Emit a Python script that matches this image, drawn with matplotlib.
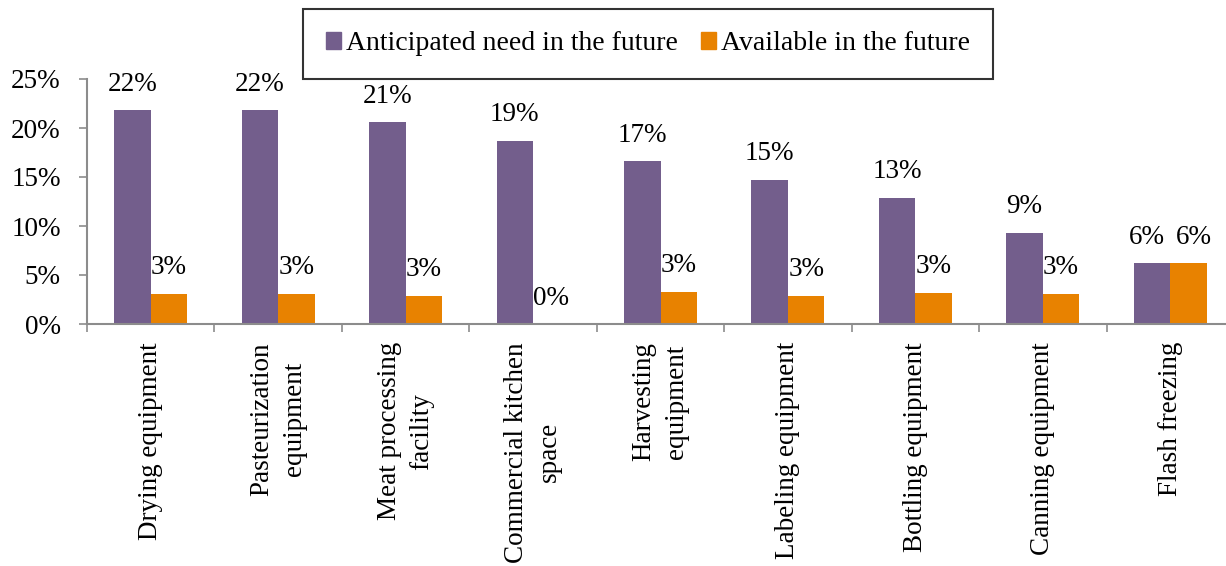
import numpy as np
import matplotlib
matplotlib.use("Agg")
import matplotlib.pyplot as plt
from matplotlib.patches import Patch

plt.rcParams['font.family'] = ['Liberation Serif', 'DejaVu Serif']

categories = ["Drying equipment", "Pasteurization\nequipment", "Meat processing\nfacility",
              "Commercial kitchen\nspace", "Harvesting\nequipment", "Labeling equipment",
              "Bottling equipment", "Canning equipment", "Flash freezing"]
need = [21.8, 21.8, 20.6, 18.7, 16.6, 14.7, 12.9, 9.3, 6.2]
available = [3.1, 3.1, 2.9, 0.0, 3.3, 2.9, 3.2, 3.1, 6.2]
series_names = ["Anticipated need in the future", "Available in the future"]
yticks = [0, 5, 10, 15, 20, 25]

purple = '#735E8C'
orange = '#E88200'
grey = '#8C8C8C'
fs = 19.5

W, H = 1226, 566
fig = plt.figure(figsize=(W / 100, H / 100), dpi=100)
# plot area, right edge runs a little past the picture
ax = fig.add_axes([87 / W, 1 - 324 / H, (1234 - 87) / W, (324 - 79) / H])

x = np.arange(len(categories))
bw = 0.286
b1 = ax.bar(x - bw / 2, need, bw, color=purple)
b2 = ax.bar(x + bw / 2, available, bw, color=orange)

# data labels, pushed apart a bit where both bars are the same height
for i in range(len(categories)):
    nudge = 4 if abs(need[i] - available[i]) < 1 else 0
    for bars, vals, side in [(b1, need, -1), (b2, available, 1)]:
        r = bars[i]
        ax.annotate(f"{vals[i]:.0f}%", (r.get_x() + r.get_width() / 2, vals[i]),
                    xytext=(side * nudge, 14), textcoords='offset points',
                    ha='center', va='baseline', fontsize=fs)

ax.set_xlim(-0.5, len(categories) - 0.5)
ax.set_ylim(0, 25)
ax.set_yticks(yticks)
ax.set_yticklabels([f"{t}%" for t in yticks], fontsize=fs)

ax.set_xticks(x)
ax.set_xticklabels(categories, rotation=90, fontsize=fs, linespacing=1.4)
ax.set_xticks(np.arange(-0.5, len(categories)), minor=True)
ax.tick_params(axis='x', which='major', length=0, pad=13)
ax.tick_params(axis='x', which='minor', length=6, width=1.2, color=grey, direction='out')
ax.tick_params(axis='y', length=6, width=1.2, color=grey, pad=13)

for s in ['top', 'right']:
    ax.spines[s].set_visible(False)
for s in ['left', 'bottom']:
    ax.spines[s].set_color(grey)
    ax.spines[s].set_linewidth(1.5)

handles = [Patch(color=purple), Patch(color=orange)]
leg = fig.legend(handles, series_names, loc='center', bbox_to_anchor=(648 / W, 1 - 44 / H),
                 ncol=2, fontsize=20, frameon=True, fancybox=False,
                 handlelength=0.55, handleheight=0.55, handletextpad=0.2,
                 columnspacing=0.8, borderpad=0.8)
leg.get_frame().set_edgecolor('black')
leg.get_frame().set_linewidth(1.5)

fig.savefig('out.png', dpi=100)
